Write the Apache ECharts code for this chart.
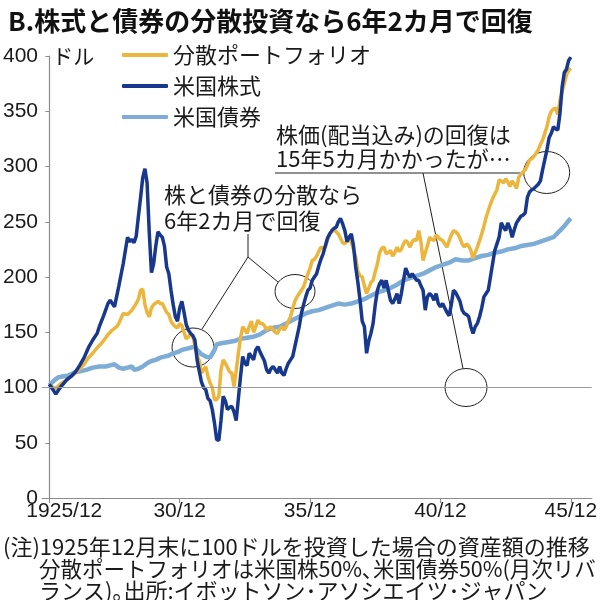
<!DOCTYPE html>
<html><head><meta charset="utf-8">
<script src="https://cdn.jsdelivr.net/npm/echarts@6/dist/echarts.min.js"></script>
<style>html,body{margin:0;padding:0;background:#fff}#c{width:600px;height:600px}</style>
</head><body><div id="c"></div>
<script>
// ---- data (month index from 1925/12 = 0, value in dollars) ----
const seriesNames = ['分散ポートフォリオ', '米国株式', '米国債券'];
const xTickMonths = [0, 60, 120, 180, 240];
const xTickLabels = ['1925/12', '30/12', '35/12', '40/12', '45/12'];
const baseLine = 100;

const stock = [[0,103],[1,100],[3,94],[5,100],[8,107],[10,110],[12,114],[14,120],[16,127],[18,136],[20,143],[22,149],[23,155],[25,165],[27,176],[28,179],[30,173],[32,192],[34,212],[36,236],[37,232],[38,234],[39,231],[40,237],[41,255],[42,272],[43,290],[44,298],[45,285],[46,240],[47,204],[48,212],[49,228],[50,241],[51,238],[52,236],[53,228],[54,209],[55,203],[56,188],[57,175],[58,164],[59,160],[60,172],[61,178],[62,168],[63,157],[64,152],[65,149],[66,147],[67,143],[68,125],[69,115],[70,105],[71,100],[72,98],[73,90],[74,88],[75,80],[76,68],[77,53],[78,52],[79,70],[80,92],[81,88],[82,80],[83,82],[84,83],[85,78],[86,70],[87,90],[88,110],[89,128],[90,122],[91,120],[92,131],[93,128],[94,125],[95,134],[96,137],[97,132],[98,128],[99,124],[100,116],[101,113],[102,117],[103,119],[104,116],[105,113],[106,119],[107,113],[108,111],[109,117],[110,122],[111,125],[112,128],[113,137],[114,146],[115,155],[116,167],[117,175],[118,182],[119,188],[120,190],[121,197],[122,200],[123,203],[124,210],[125,216],[126,221],[127,228],[128,235],[129,239],[130,242],[131,244],[132,245],[133,250],[134,253],[135,248],[136,242],[137,232],[138,236],[139,239],[140,228],[141,209],[142,195],[143,179],[144,160],[145,155],[146,131],[147,142],[148,149],[149,158],[150,175],[151,188],[152,194],[153,197],[154,190],[155,197],[156,188],[157,179],[158,176],[159,180],[160,185],[161,176],[162,185],[163,197],[164,208],[165,203],[166,200],[167,203],[168,200],[169,197],[170,197],[171,192],[172,188],[173,170],[174,182],[175,185],[176,183],[177,179],[178,185],[179,176],[180,173],[181,176],[182,172],[183,168],[184,165],[185,175],[186,188],[187,186],[188,182],[189,178],[190,170],[191,167],[192,166],[193,164],[194,155],[195,149],[196,155],[197,158],[198,164],[199,172],[200,182],[201,185],[202,188],[203,200],[204,212],[205,224],[206,230],[207,236],[208,249],[209,245],[210,242],[211,249],[212,244],[213,236],[214,243],[215,249],[216,252],[217,255],[218,256],[219,258],[220,272],[221,277],[222,279],[223,280],[224,282],[225,284],[226,287],[227,297],[228,306],[229,315],[230,326],[231,330],[232,336],[233,334],[234,333],[235,348],[236,372],[237,385],[238,388],[239,396],[240,399]];

const portfolio = [[0,103],[1,101],[3,99],[5,103],[8,107],[10,110],[12,113],[14,117],[16,121],[18,127],[20,131],[22,136],[24,140],[26,145],[27,148],[29,152],[31,155],[32,158],[34,167],[36,166],[37,168],[38,170],[40,176],[41,180],[42,188],[43,189],[44,175],[45,168],[46,164],[47,172],[48,175],[50,178],[51,176],[52,176],[53,172],[54,168],[55,166],[56,160],[57,157],[58,155],[59,154],[60,158],[61,156],[62,150],[63,144],[64,146],[65,148],[66,147],[67,138],[68,129],[69,124],[70,113],[71,116],[72,119],[73,110],[74,104],[75,100],[76,89],[77,89],[78,92],[79,116],[80,125],[81,122],[82,118],[83,114],[84,113],[85,101],[86,115],[87,131],[88,145],[89,155],[90,152],[91,149],[92,155],[93,160],[94,150],[95,155],[96,161],[97,158],[98,158],[99,156],[100,152],[101,154],[102,155],[103,152],[104,150],[105,149],[106,153],[107,155],[108,152],[109,155],[110,160],[111,164],[112,171],[113,178],[114,182],[115,185],[116,188],[117,191],[118,197],[119,203],[120,208],[121,215],[122,216],[123,219],[124,223],[125,227],[126,226],[127,227],[128,233],[129,239],[130,241],[131,243],[132,241],[133,239],[134,235],[135,231],[136,230],[137,233],[138,235],[139,231],[140,225],[141,218],[142,205],[143,201],[144,200],[145,192],[146,185],[147,190],[148,195],[149,197],[150,205],[151,212],[152,222],[153,226],[154,227],[155,221],[156,222],[157,224],[158,219],[159,222],[160,227],[161,223],[162,225],[163,230],[164,233],[165,231],[166,227],[167,232],[168,234],[169,233],[170,242],[171,232],[172,215],[173,222],[174,228],[175,236],[176,234],[177,233],[178,238],[179,236],[180,234],[181,233],[182,230],[183,227],[184,233],[185,238],[186,242],[187,241],[188,239],[189,235],[190,230],[191,227],[192,230],[193,228],[194,224],[195,217],[196,222],[197,227],[198,233],[199,239],[200,246],[201,254],[202,260],[203,266],[204,271],[205,275],[206,279],[207,288],[208,287],[209,285],[210,289],[211,286],[212,282],[213,287],[214,284],[215,280],[216,290],[217,293],[218,295],[219,297],[220,301],[221,306],[222,307],[223,309],[224,312],[225,315],[226,320],[227,324],[228,330],[229,336],[230,345],[231,350],[232,352],[233,353],[234,347],[235,360],[236,368],[237,375],[238,383],[239,387],[240,389]];

const bond = [[0,102],[2,106],[4,109],[6,110],[9,111],[12,114],[15,115],[17,116],[20,118],[23,119],[26,119],[28,120],[30,121],[32,118],[34,117],[36,118],[38,119],[39,116],[41,117],[43,119],[45,122],[47,124],[49,125],[51,127],[53,128],[55,129],[57,131],[59,132],[61,134],[63,135],[65,136],[67,137],[68,134],[70,130],[72,128],[74,127],[76,134],[77,139],[79,140],[82,141],[85,142],[88,144],[91,145],[94,146],[97,148],[100,152],[103,154],[106,155],[109,158],[112,161],[115,164],[118,167],[121,169],[124,170],[127,172],[130,174],[133,176],[136,175],[139,176],[142,178],[145,180],[148,183],[151,186],[154,188],[157,190],[160,193],[163,197],[166,199],[169,201],[172,203],[175,206],[178,209],[181,211],[184,213],[187,216],[190,215],[193,215],[196,217],[199,219],[202,220],[205,222],[208,223],[211,225],[214,226],[217,228],[220,229],[223,230],[226,232],[229,234],[232,236],[235,242],[237,246],[239,251],[240,253]];

// ---- styling ----
const CJK = '"Noto Sans CJK JP", "Noto Sans", sans-serif';
const NUM = '"Liberation Sans", Arial, sans-serif';
const INK = '#1a1a1a';
const AXIS = '#8c8c8c';
const C_PORT = '#ecb53c';
const C_STOCK = '#17388c';
const C_BOND = '#7dadd6';

function txt(text, x, y, size, weight) {
  return { type: 'text', x: x, y: y, silent: true,
    style: { text: text, fill: INK, fontFamily: CJK, fontSize: size, fontWeight: weight || 'normal', verticalAlign: 'middle', align: 'left' } };
}
function seg(x1, y1, x2, y2) {
  return { type: 'line', silent: true, shape: { x1, y1, x2, y2 }, style: { stroke: '#222', lineWidth: 1 } };
}
function oval(cx, cy, rx, ry) {
  return { type: 'ellipse', silent: true, shape: { cx, cy, rx, ry }, style: { fill: null, stroke: '#222', lineWidth: 1 } };
}

const chart = echarts.init(document.getElementById('c'), null, { renderer: 'canvas' });
chart.setOption({
  animation: false,
  backgroundColor: '#fff',
  title: { text: 'B.株式と債券の分散投資なら6年2カ月で回復', left: 3, top: 3,
    textStyle: { fontFamily: CJK, fontSize: 26, fontWeight: 'bold', color: '#111' } },
  legend: { orient: 'vertical', left: 117, top: 39, itemWidth: 46, itemHeight: 4, itemGap: 9,
    icon: 'roundRect', data: seriesNames,
    textStyle: { fontFamily: CJK, fontSize: 22, color: INK, lineHeight: 22 } },
  grid: { left: 39.3, right: 2, top: 56, bottom: 102 },
  xAxis: {
    type: 'value', min: -3.35, max: 249.6,
    splitLine: { show: false },
    axisLine: { lineStyle: { color: AXIS, width: 1.2 } },
    axisTick: { customValues: xTickMonths, length: 5, lineStyle: { color: AXIS } },
    axisLabel: {
      customValues: xTickMonths, margin: 3, fontFamily: NUM, fontSize: 21, color: INK,
      formatter: function (v) {
        const i = xTickMonths.indexOf(v);
        return i === 0 ? '{first|' + xTickLabels[i] + '}' : xTickLabels[i];
      },
      rich: { first: { padding: [0, 0, 0, 30], fontFamily: NUM, fontSize: 21, color: INK } }
    }
  },
  yAxis: {
    type: 'value', min: 0, max: 400, interval: 50,
    name: 'ドル', nameLocation: 'end', nameGap: 0,
    nameTextStyle: { fontFamily: CJK, fontSize: 21, color: INK, align: 'left', verticalAlign: 'middle', padding: [0, 0, 0, 3] },
    splitLine: { show: false },
    axisLine: { show: true, lineStyle: { color: AXIS, width: 1.2 } },
    axisTick: { show: true, length: 4, lineStyle: { color: AXIS } },
    axisLabel: { margin: 4, fontFamily: NUM, fontSize: 21, color: INK }
  },
  series: [
    { name: '米国債券', type: 'line', data: bond, showSymbol: false, color: C_BOND,
      lineStyle: { color: C_BOND, width: 4.5 }, z: 2,
      markLine: { silent: true, symbol: 'none', label: { show: false },
        lineStyle: { color: '#9a9a9a', width: 1, type: 'solid' }, data: [{ yAxis: baseLine }] } },
    { name: '分散ポートフォリオ', type: 'line', data: portfolio, showSymbol: false, color: C_PORT,
      lineStyle: { color: C_PORT, width: 3.5 }, z: 3 },
    { name: '米国株式', type: 'line', data: stock, showSymbol: false, color: C_STOCK,
      lineStyle: { color: C_STOCK, width: 3.5 }, z: 4 }
  ],
  graphic: [
    txt('株と債券の分散なら', 164, 195, 22),
    txt('6年2カ月で回復', 164, 221, 22),
    seg(248, 234, 248, 257),
    seg(248, 257, 202, 329),
    seg(248, 257, 278, 282),
    oval(193, 347.5, 21, 19.5),
    oval(295, 291.5, 20, 17),
    txt('株価(配当込み)の回復は', 276, 135, 22),
    txt('15年5カ月かかったが…', 276, 159, 22),
    seg(275, 173, 524, 173),
    seg(423, 173, 463, 368.5),
    oval(546.7, 172.5, 23, 21),
    oval(466, 387.5, 21, 19),
    txt('(注)1925年12月末に100ドルを投資した場合の資産額の推移', 3, 547, 22),
    txt('分散ポートフォリオは米国株50%､米国債券50%(月次リバ', 39, 569, 21.5),
    txt('ランス)｡出所:イボットソン･アソシエイツ･ジャパン', 39, 591, 22)
  ]
});
</script>
</body></html>
